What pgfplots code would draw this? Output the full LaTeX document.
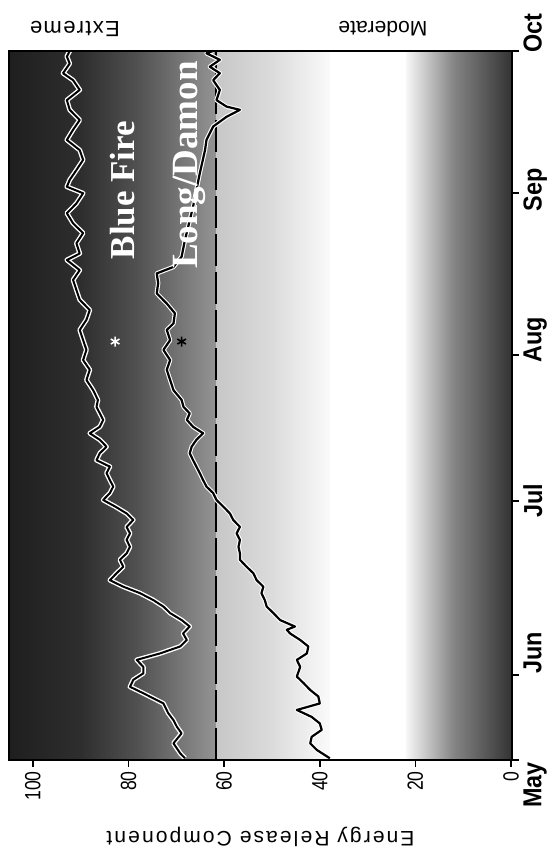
\documentclass[border=0pt]{standalone}
\usepackage{pgfplots}
\pgfplotsset{compat=1.18}
\usepackage{pgfplotstable}
\usepackage{fontspec}
\setmainfont{Liberation Sans}
\newfontfamily\tickfont{Liberation Sans}[FakeStretch=0.8]
\newfontfamily\monthfont{Liberation Sans}[FakeStretch=0.9]
\newfontfamily\spacedfont{Liberation Sans}[LetterSpace=10]
\newfontfamily\extfont{Liberation Sans}[LetterSpace=6]
\newfontfamily\labelfont{Liberation Serif}

% ERC value, season position (May 1 = 0 ... Oct 1 = 153)
\pgfplotstableread{
erc t
68.2 0.37
69.2 1.45
70.6 3.6
68.9 5.75
69.9 7.2
70.6 8.6
71.7 10.1
72.7 12.2
76.9 14.4
79.7 15.8
79.0 17.3
76.9 18.7
76.9 20.1
78.3 21.6
73.4 23.0
69.2 24.5
67.8 25.9
68.6 27.3
67.2 28.8
68.9 30.2
71.3 31.7
72.7 33.1
74.8 34.5
77.6 36.0
81.1 37.4
83.9 38.8
82.5 40.3
81.1 41.7
81.8 43.2
80.4 44.6
79.7 46.0
80.4 47.5
79.7 48.9
80.4 50.3
79.0 51.8
80.4 53.2
82.8 54.7
85.3 56.1
83.9 57.6
83.2 59.0
83.9 60.4
84.6 61.9
83.9 63.3
86.7 64.7
86.0 66.2
84.6 67.6
86.0 69.1
88.1 70.5
86.0 71.9
85.3 73.4
86.0 74.8
86.7 76.2
86.4 77.7
87.4 79.8
88.8 82.0
88.1 84.2
89.5 86.3
88.8 88.5
89.5 90.6
90.2 92.8
88.8 95.0
88.1 97.1
90.2 99.3
90.9 101.4
91.6 103.6
90.2 105.7
92.9 107.9
90.2 109.3
90.9 111.5
89.5 113.7
91.6 115.8
92.9 118.0
90.9 120.1
89.5 122.3
92.9 123.7
92.3 125.2
90.9 127.3
89.5 129.5
90.2 131.6
92.9 133.8
91.6 136.0
90.2 138.1
92.3 140.3
92.9 142.4
90.2 144.6
91.6 146.7
93.7 148.2
92.3 150.3
92.9 151.8
92.3 153.0
}\bluefire

\pgfplotstableread{
erc t
37.9 0.37
40.6 2.16
42.0 3.6
41.7 5.0
39.6 6.5
40.0 7.9
41.7 9.3
44.8 10.8
40.0 12.2
40.3 13.7
42.0 15.1
43.4 16.6
44.8 18.0
44.1 20.1
44.8 21.6
42.7 23.0
42.4 24.5
44.1 25.9
46.2 27.3
46.9 28.1
45.2 28.8
48.3 30.2
49.7 31.7
51.1 33.1
51.5 34.5
52.2 36.0
51.8 37.4
53.2 38.8
53.9 40.3
55.3 41.7
56.7 43.2
56.7 44.6
57.0 46.0
56.7 47.5
57.4 48.9
56.7 50.3
58.1 51.8
58.8 53.2
60.2 54.7
61.6 56.1
62.3 57.6
63.7 59.0
64.4 60.4
65.1 61.9
65.8 63.3
66.5 64.7
67.2 66.2
66.8 67.6
65.8 69.1
64.4 70.5
66.5 71.9
67.8 73.4
67.2 74.8
68.5 76.2
68.9 77.7
70.6 79.8
71.3 82.0
72.0 84.2
71.3 86.3
72.7 88.5
71.3 90.6
72.0 92.8
70.6 94.2
70.3 96.4
72.0 98.5
74.1 100.7
73.8 102.9
74.1 105.0
70.6 106.4
68.9 108.6
68.2 112.2
66.5 119.4
65.1 126.6
64.0 131.6
63.7 133.8
62.3 136.7
59.5 138.8
56.7 140.3
59.5 141.0
61.6 142.4
60.9 144.6
62.3 146.7
60.9 148.2
63.0 149.6
60.9 151.1
63.7 152.5
62.3 153.0
}\longdamon

\begin{document}
\begin{tikzpicture}
\begin{axis}[
  at={(4.5pt,47pt)}, anchor=south west,
  scale only axis, width=251.5pt, height=354.5pt,
  x dir=reverse, xmin=-0.2, xmax=105, ymin=0, ymax=153,
  axis on top, clip=false,
  axis line style={line width=1pt, black},
  xtick={0,20,40,60,80,100},
  ytick={0,18.3,55.9,87.4,122.4,153},
  yticklabels={{May\hspace*{25pt}},{\hspace*{22pt}Jun},{Jul},{\hspace*{15pt}Aug},{\hspace*{3pt}Sep},{\hspace*{18pt}Oct}},
  xtick pos=bottom, ytick pos=right,
  xticklabel pos=lower, yticklabel pos=right,
  tick align=outside, major tick length=3.5pt,
  every tick/.style={black, line width=0.9pt},
  /pgf/number format/assume math mode=true,
  xticklabel style={rotate=90, anchor=east, font=\tickfont\fontsize{11}{11}\selectfont, inner sep=2pt},
  yticklabel style={rotate=90, anchor=north, font=\monthfont\bfseries\fontsize{13}{13}\selectfont, inner sep=2pt},
  xlabel={Energy Release Component},
  xlabel style={font=\spacedfont\fontsize{10.5}{12}\selectfont, rotate=180, at={(axis description cs:0.5,-0.1086)}, anchor=center},
]
% background rating bands
\fill[left color=black!88, right color=black!82] (axis cs:105,0) rectangle (axis cs:90,153);
\fill[left color=black!82, right color=black!68] (axis cs:90,0) rectangle (axis cs:78,153);
\fill[left color=black!68, right color=black!42] (axis cs:78,0) rectangle (axis cs:61.7,153);
\fill[left color=black!22, right color=black!14] (axis cs:61.7,0) rectangle (axis cs:50,153);
\fill[left color=black!14, right color=black!2] (axis cs:50,0) rectangle (axis cs:38,153);
\fill[left color=black!3, right color=black!48] (axis cs:22,0) rectangle (axis cs:12,153);
\fill[left color=black!48, right color=black!80] (axis cs:12,0) rectangle (axis cs:-0.2,153);

% 60 ERC threshold
\addplot[black, line width=1pt, dash pattern=on 16pt off 3pt] coordinates {(61.7,0) (61.7,153)};

% Blue Fire
\addplot[white, line width=2.4pt, line join=round] table[x=erc,y=t]{\bluefire};
\addplot[black, line width=1pt, line join=round] table[x=erc,y=t]{\bluefire};
% Long/Damon
\addplot[white, line width=2.2pt, line join=round] table[x=erc,y=t]{\longdamon};
\addplot[black, line width=1.1pt, line join=round] table[x=erc,y=t]{\longdamon};

\addplot[only marks, mark=asterisk, mark size=2.5pt, white, line width=0.8pt] coordinates {(82.8,90.3)};
\addplot[only marks, mark=asterisk, mark size=2.5pt, black, line width=0.8pt] coordinates {(68.9,90.3)};

\node[rotate=90, text=white, font=\labelfont\bfseries\fontsize{17.5}{18}\selectfont] at (axis cs:81.2,123.0) {Blue Fire};
\node[rotate=90, text=white, font=\labelfont\bfseries\fontsize{18.5}{19}\selectfont] at (axis cs:67.2,128.4) {Long/Damon};

\node[rotate=180, font=\extfont\fontsize{11}{12}\selectfont] at (axis cs:91.2,157.7) {Extreme};
\node[rotate=180, font=\fontsize{10.5}{12}\selectfont] at (axis cs:26.8,157.7) {Moderate};
\end{axis}
\pgfresetboundingbox
\useasboundingbox (0,0) rectangle (276pt,427pt);
\end{tikzpicture}
\end{document}
